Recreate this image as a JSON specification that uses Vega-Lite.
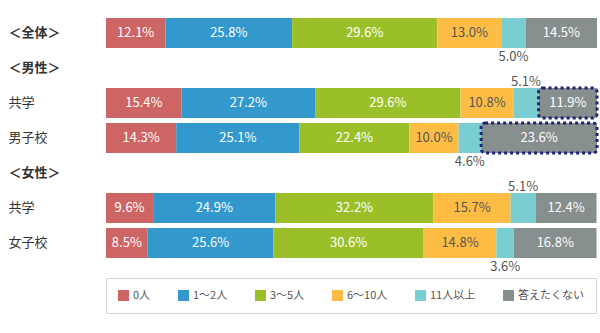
{
  "$schema": "https://vega.github.io/schema/vega-lite/v6.json",
  "width": 491,
  "height": 240,
  "autosize": {"type": "none"},
  "padding": {"left": 106, "top": 18, "right": 3, "bottom": 75},
  "background": "white",
  "config": {"view": {"stroke": null}, "font": "Noto Sans CJK JP"},
  "data": {"values": [
    {"row": "全体", "cat": "0人", "i": 0, "v": 12.1},
    {"row": "全体", "cat": "1～2人", "i": 1, "v": 25.8},
    {"row": "全体", "cat": "3～5人", "i": 2, "v": 29.6},
    {"row": "全体", "cat": "6～10人", "i": 3, "v": 13.0},
    {"row": "全体", "cat": "11人以上", "i": 4, "v": 5.0},
    {"row": "全体", "cat": "答えたくない", "i": 5, "v": 14.5},
    {"row": "男共学", "cat": "0人", "i": 0, "v": 15.4},
    {"row": "男共学", "cat": "1～2人", "i": 1, "v": 27.2},
    {"row": "男共学", "cat": "3～5人", "i": 2, "v": 29.6},
    {"row": "男共学", "cat": "6～10人", "i": 3, "v": 10.8},
    {"row": "男共学", "cat": "11人以上", "i": 4, "v": 5.1},
    {"row": "男共学", "cat": "答えたくない", "i": 5, "v": 11.9},
    {"row": "男子校", "cat": "0人", "i": 0, "v": 14.3},
    {"row": "男子校", "cat": "1～2人", "i": 1, "v": 25.1},
    {"row": "男子校", "cat": "3～5人", "i": 2, "v": 22.4},
    {"row": "男子校", "cat": "6～10人", "i": 3, "v": 10.0},
    {"row": "男子校", "cat": "11人以上", "i": 4, "v": 4.6},
    {"row": "男子校", "cat": "答えたくない", "i": 5, "v": 23.6},
    {"row": "女共学", "cat": "0人", "i": 0, "v": 9.6},
    {"row": "女共学", "cat": "1～2人", "i": 1, "v": 24.9},
    {"row": "女共学", "cat": "3～5人", "i": 2, "v": 32.2},
    {"row": "女共学", "cat": "6～10人", "i": 3, "v": 15.7},
    {"row": "女共学", "cat": "11人以上", "i": 4, "v": 5.1},
    {"row": "女共学", "cat": "答えたくない", "i": 5, "v": 12.4},
    {"row": "女子校", "cat": "0人", "i": 0, "v": 8.5},
    {"row": "女子校", "cat": "1～2人", "i": 1, "v": 25.6},
    {"row": "女子校", "cat": "3～5人", "i": 2, "v": 30.6},
    {"row": "女子校", "cat": "6～10人", "i": 3, "v": 14.8},
    {"row": "女子校", "cat": "11人以上", "i": 4, "v": 3.6},
    {"row": "女子校", "cat": "答えたくない", "i": 5, "v": 16.8}
  ]},
  "transform": [
    {"stack": "v", "groupby": ["row"], "sort": [{"field": "i"}], "as": ["x0", "x1"]},
    {"calculate": "(datum.x0 + datum.x1) / 2", "as": "xm"},
    {"calculate": "format(datum.v, '.1f') + '%'", "as": "lab"}
  ],
  "encoding": {
    "y": {
      "field": "row",
      "type": "nominal",
      "scale": {
        "domain": ["全体", "男性", "男共学", "男子校", "女性", "女共学", "女子校"],
        "paddingInner": 0.143,
        "paddingOuter": 0
      },
      "axis": {
        "title": null,
        "domain": false,
        "ticks": false,
        "labelAlign": "left",
        "labelPadding": 98,
        "labelFontSize": 13,
        "labelColor": "#333333",
        "labelFont": "Noto Sans CJK JP",
        "labelExpr": "datum.value == '全体' ? '＜全体＞' : datum.value == '男性' ? '＜男性＞' : datum.value == '女性' ? '＜女性＞' : (datum.value == '男共学' || datum.value == '女共学') ? '共学' : datum.value",
        "labelFontWeight": {"condition": {"test": "datum.value == '全体' || datum.value == '男性' || datum.value == '女性'", "value": "bold"}, "value": "normal"}
      }
    }
  },
  "layer": [
    {
      "mark": {"type": "bar"},
      "encoding": {
        "x": {"field": "x0", "type": "quantitative", "scale": {"domain": [0, 100], "nice": false}, "axis": null},
        "x2": {"field": "x1"},
        "color": {
          "field": "cat",
          "type": "nominal",
          "scale": {
            "domain": ["0人", "1～2人", "3～5人", "6～10人", "11人以上", "答えたくない"],
            "range": ["#cd6565", "#3399cc", "#9bbf29", "#fdbd45", "#7acdd1", "#878e8e"]
          },
          "legend": {
            "title": null,
            "orient": "none",
            "legendX": 0,
            "legendY": 260,
            "direction": "horizontal",
            "columns": 6,
            "columnPadding": 27,
            "symbolType": "square",
            "symbolSize": 121,
            "symbolStrokeWidth": 0,
            "labelFontSize": 11,
            "labelColor": "#555555",
            "labelOffset": 4,
            "labelFont": "Noto Sans CJK JP",
            "padding": 12,
            "strokeColor": "#d5d5d5",
            "fillColor": "white"
          }
        }
      }
    },
    {
      "transform": [{"filter": "datum.cat != '11人以上'"}],
      "mark": {"type": "text", "fontSize": 13, "baseline": "middle", "align": "center"},
      "encoding": {
        "x": {"field": "xm", "type": "quantitative"},
        "text": {"field": "lab"},
        "color": {"condition": {"test": "datum.cat == '6～10人'", "value": "#555555"}, "value": "white"}
      }
    },
    {
      "transform": [{"filter": "datum.cat == '11人以上' && (datum.row == '男共学' || datum.row == '女共学')"}],
      "mark": {"type": "text", "fontSize": 13, "baseline": "middle", "align": "center", "dy": -21, "color": "#555555"},
      "encoding": {
        "x": {"field": "xm", "type": "quantitative"},
        "text": {"field": "lab"}
      }
    },
    {
      "transform": [{"filter": "datum.cat == '11人以上' && datum.row != '男共学' && datum.row != '女共学'"}],
      "mark": {"type": "text", "fontSize": 13, "baseline": "middle", "align": "center", "dy": 24, "color": "#555555"},
      "encoding": {
        "x": {"field": "xm", "type": "quantitative"},
        "text": {"field": "lab"}
      }
    },
    {
      "transform": [{"filter": "datum.cat == '答えたくない' && (datum.row == '男共学' || datum.row == '男子校')"}],
      "mark": {"type": "bar", "filled": false, "stroke": "#1f2378", "strokeWidth": 3, "strokeDash": [3, 3], "cornerRadius": 4},
      "encoding": {
        "x": {"field": "x0", "type": "quantitative"},
        "x2": {"field": "x1"}
      }
    }
  ]
}
